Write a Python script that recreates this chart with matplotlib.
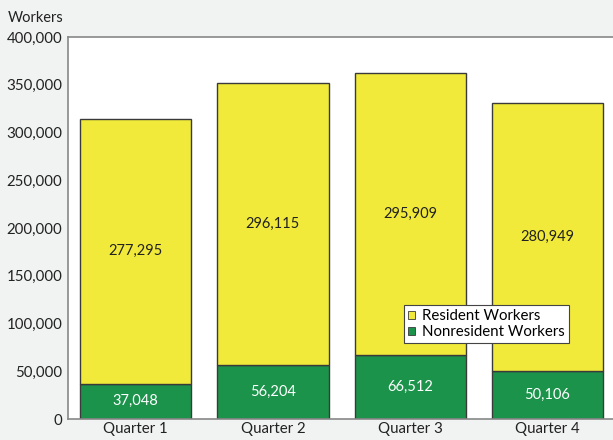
import matplotlib.pyplot as plt
import numpy as np

plt.rcParams['font.family'] = ['Lato', 'DejaVu Sans']

# === Data ===
quarters = ["Quarter 1", "Quarter 2", "Quarter 3", "Quarter 4"]
nonresident = [37048, 56204, 66512, 50106]
resident = [277295, 296115, 295909, 280949]

yellow = "#f2ea3a"
green = "#1b934b"

fig = plt.figure(figsize=(6.13, 4.4), dpi=100, facecolor="#f1f2f2")
ax = fig.add_axes([0.111, 0.0477, 0.889, 0.8683])
ax.set_facecolor("white")

x = np.arange(len(quarters))
w = 0.81
b1 = ax.bar(x, nonresident, w, color=green, edgecolor="#3a3a3a", linewidth=1,
            label="Nonresident Workers", zorder=2)
b2 = ax.bar(x, resident, w, bottom=nonresident, color=yellow, edgecolor="#3a3a3a",
            linewidth=1, label="Resident Workers", zorder=2)

for i in range(len(quarters)):
    ax.text(x[i], nonresident[i] / 2, f"{nonresident[i]:,}", ha="center", va="center",
            color="white", fontsize=10.5)
    ax.text(x[i], nonresident[i] + resident[i] / 2, f"{resident[i]:,}", ha="center",
            va="center", color="#222222", fontsize=10.5)

ax.set_xlim(-0.493, 3.478)
ax.set_ylim(0, 400000)
ax.set_yticks(range(0, 400001, 50000))
ax.set_yticklabels([f"{v:,}" for v in range(0, 400001, 50000)])
ax.set_xticks(x)
ax.set_xticklabels(quarters)
ax.tick_params(axis="both", length=0, labelsize=10.8, colors="#222222", pad=4)
ax.tick_params(axis="x", pad=2)

for side in ["top", "left", "bottom"]:
    ax.spines[side].set_color("#888888")
    ax.spines[side].set_linewidth(1.2)
ax.spines["right"].set_visible(False)

fig.text(0.013, 0.96, "Workers", fontsize=10.5, color="#222222", ha="left", va="center")

handles = [b2, b1]
leg = ax.legend(handles, ["Resident Workers", "Nonresident Workers"],
                loc="upper left", bbox_to_anchor=(0.617, 0.298),
                fontsize=10.8, frameon=True, fancybox=False, edgecolor="#444444",
                framealpha=1, facecolor="white",
                handlelength=0.45, handleheight=0.45, handletextpad=0.5,
                borderpad=0.25, labelspacing=0.15, borderaxespad=0)
leg.get_frame().set_linewidth(0.8)
leg.set_zorder(5)
for p in leg.get_patches():
    p.set_linewidth(0.6)

fig.savefig("out.png", dpi=100, facecolor=fig.get_facecolor())
